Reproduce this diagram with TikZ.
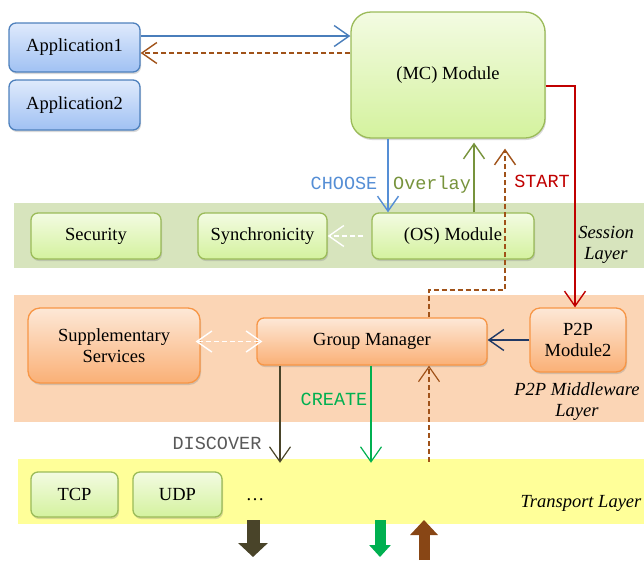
\documentclass[tikz,border=0pt]{standalone}
\usepackage{fontspec}
\setmainfont{Liberation Serif}
\setmonofont{Liberation Mono}
\usepackage{tikz}
\usetikzlibrary{arrows.meta,shapes,positioning,shadows}
\usepackage{xcolor}
\definecolor{appline}{RGB}{79,129,189}
\definecolor{apptop}{RGB}{223,234,252}
\definecolor{appbot}{RGB}{160,193,243}
\definecolor{grline}{RGB}{155,187,89}
\definecolor{grtop}{RGB}{243,251,226}
\definecolor{grbot}{RGB}{212,242,158}
\definecolor{orline}{RGB}{247,150,70}
\definecolor{ortop}{RGB}{253,232,215}
\definecolor{orbot}{RGB}{250,176,118}
\definecolor{sessionbg}{RGB}{215,228,189}
\definecolor{middlebg}{RGB}{251,213,181}
\definecolor{transbg}{RGB}{255,255,153}
\definecolor{callblue}{RGB}{74,126,187}
\definecolor{backbrown}{RGB}{160,82,25}
\definecolor{startred}{RGB}{192,0,0}
\definecolor{chooseblue}{RGB}{85,142,213}
\definecolor{overlaygreen}{RGB}{119,147,60}
\definecolor{navyline}{RGB}{31,56,100}
\definecolor{discoverdark}{RGB}{73,68,41}
\definecolor{creategreen}{RGB}{0,176,80}
\definecolor{discovergray}{RGB}{89,89,89}
\newcommand{\dsize}{\fontsize{18.5}{21}\selectfont}
\tikzstyle{box} = [rectangle, rounded corners=7pt, line width=1.3pt, align=center, font=\dsize, drop shadow={opacity=0.3,shadow xshift=1pt,shadow yshift=-2pt}]
\tikzstyle{appbox} = [box, draw=appline, top color=apptop, bottom color=appbot]
\tikzstyle{grbox} = [box, draw=grline, top color=grtop, bottom color=grbot]
\tikzstyle{orbox} = [box, draw=orline, top color=ortop, bottom color=orbot]
\tikzstyle{band} = [rectangle, inner sep=0pt]
\tikzstyle{layer} = [align=center, font=\dsize\itshape]
\tikzstyle{lbl} = [font=\dsize\ttfamily]
\tikzstyle{arrow} = [line width=1.4pt, -{Straight Barb[length=15pt,width=21pt]}]
\tikzstyle{dasharrow} = [arrow, dash pattern=on 5pt off 3pt]
\tikzstyle{blockarrow} = [line width=12pt]

\begin{document}
\begin{tikzpicture}[x=1pt,y=-1pt]
\useasboundingbox (0,0) rectangle (644,560);
\node[band, fill=sessionbg, minimum width=630pt, minimum height=65pt] (session) at (329,235.5) {};
\node[band, fill=middlebg, minimum width=630pt, minimum height=127pt] (middle) at (329,358.5) {};
\node[band, fill=transbg, minimum width=626pt, minimum height=65pt] (transport) at (331,491.5) {};

\node[appbox, minimum width=131pt, minimum height=49pt] (app1) at (74.5,47.5) {Application1};
\node[appbox, minimum width=131pt, minimum height=50pt] (app2) at (74.5,105) {Application2};
\node[grbox, rounded corners=20pt, minimum width=194pt, minimum height=126pt] (mc) at (448,75) {(MC) Module};

\node[grbox, minimum width=130pt, minimum height=46pt] (sec) at (96,236) {Security};
\node[grbox, minimum width=129pt, minimum height=46pt] (sync) at (262.5,236) {Synchronicity};
\node[grbox, minimum width=162pt, minimum height=46pt] (os) at (453,236) {(OS) Module};
\node[layer] (sessionlbl) at (606,245) {Session\\Layer};

\node[orbox, rounded corners=12pt, minimum width=172pt, minimum height=75pt] (supp) at (114,345.5) {Supplementary\\Services};
\node[orbox, minimum width=230pt, minimum height=47pt] (gm) at (372,341.5) {Group Manager};
\node[orbox, rounded corners=10pt, minimum width=96pt, minimum height=64pt] (p2pm) at (578,340) {P2P\\Module2};
\node[layer] (middlelbl) at (577,402) {P2P Middleware\\Layer};

\node[grbox, minimum width=87pt, minimum height=45pt] (tcp) at (74.5,494.5) {TCP};
\node[grbox, minimum width=89pt, minimum height=45pt] (udp) at (177.5,494.5) {UDP};
\node[font=\dsize] (dots) at (255,500) {\dots};
\node[layer] (translbl) at (581,503) {Transport Layer};

\node[lbl, text=chooseblue] (choose) at (344,183) {CHOOSE};
\node[lbl, text=overlaygreen] (overlay) at (432,185) {Overlay};
\node[lbl, text=startred] (start) at (542,181) {START};
\node[lbl, text=creategreen] (create) at (334,399) {CREATE};
\node[lbl, text=discovergray] (discover) at (217,443) {DISCOVER};

\coordinate (a1) at ([yshift=11.5pt]app1.east);
\coordinate (a2) at ([yshift=-5.5pt]app1.east);
\draw[arrow, callblue] (a1) -- (a1 -| mc.west);
\draw[dasharrow, backbrown] (a2 -| mc.west) -- (a2);
\draw[arrow, startred] ([yshift=-11pt]mc.east) -| ([xshift=-3pt]p2pm.north);
\draw[arrow, chooseblue] ([xshift=-60pt]mc.south) -- ([xshift=-60pt]mc.south |- os.north);
\draw[arrow, overlaygreen, shorten >=4pt] ([xshift=21pt]os.north) -- ([xshift=21pt]os.north |- mc.south);
\coordinate (bk1) at (505,290);
\draw[dasharrow, backbrown, shorten >=10pt] ([xshift=57pt]gm.north) |- (bk1) -- (bk1 |- mc.south);
\draw[dasharrow, white, shorten <=8pt] (os.west) -- (sync.east);
\draw[arrow, navyline] (p2pm.west) -- (p2pm.west -| gm.east);
\draw[dasharrow, white, {Straight Barb[length=15pt,width=21pt]}-{Straight Barb[length=15pt,width=21pt]}] ([xshift=-5pt]supp.east |- gm.west) -- ([xshift=6pt]gm.west);
\draw[arrow, discoverdark, line width=1.2pt, shorten >=-4pt] ([xshift=-92pt]gm.south) -- ([xshift=-92pt]gm.south |- transport.north);
\draw[arrow, creategreen, line width=1.2pt, shorten >=-4pt] ([xshift=-1pt]gm.south) -- ([xshift=-1pt]gm.south |- transport.north);
\draw[dasharrow, backbrown, line width=1.2pt, shorten <=-3pt] ([xshift=57pt]gm.south |- transport.north) -- ([xshift=57pt]gm.south);

\coordinate (d1) at (253,520);
\coordinate (d2) at (253,557);
\coordinate (c1) at (380,520);
\coordinate (c2) at (380,557);
\coordinate (u1) at (424,560);
\coordinate (u2) at (424,520);
\draw[blockarrow, line width=13pt, discoverdark, -{Triangle[length=14pt,width=29pt]}] (d1) -- (d2);
\draw[blockarrow, line width=11pt, creategreen, -{Triangle[length=12pt,width=21pt]}] (c1) -- (c2);
\draw[blockarrow, line width=11pt, backbrown!85!black, -{Triangle[length=15pt,width=27pt]}] (u1) -- (u2);
\end{tikzpicture}
\end{document}
